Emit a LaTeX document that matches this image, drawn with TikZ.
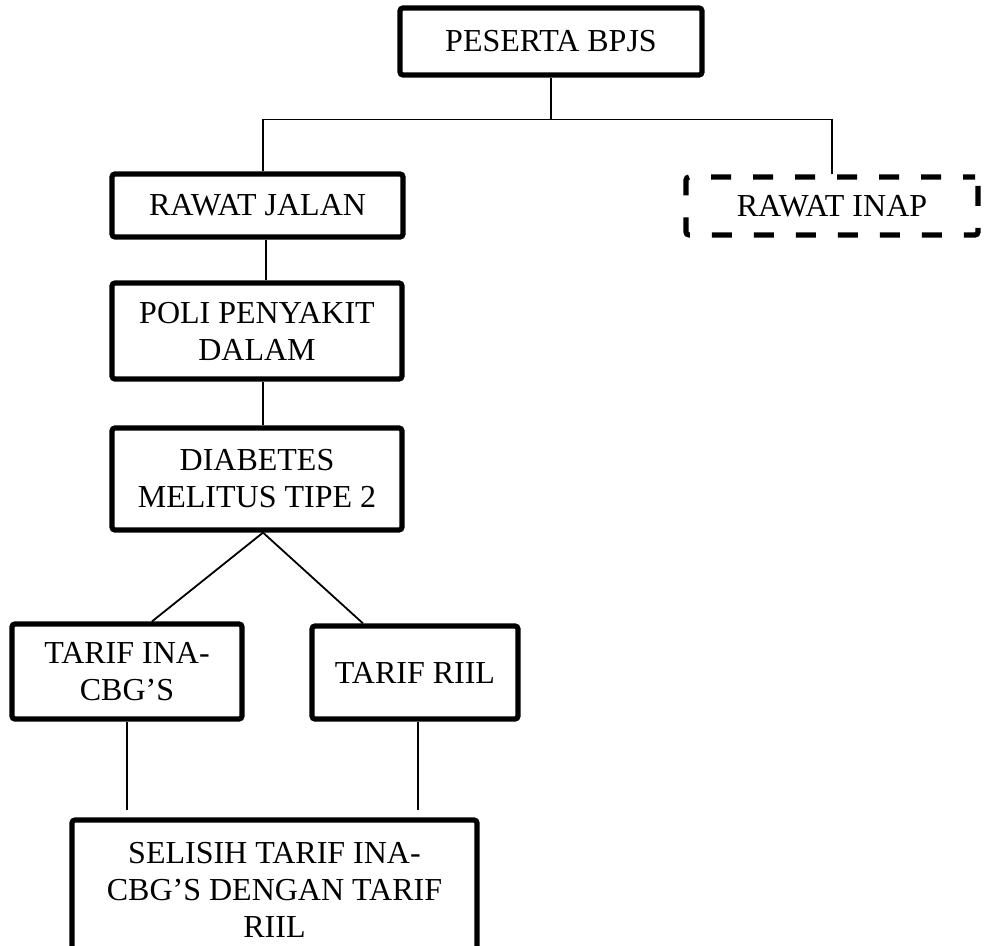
\documentclass[tikz,border=0pt]{standalone}
\usepackage{fontspec}
\setmainfont{Liberation Serif}
\usetikzlibrary{calc}
\begin{document}
\begin{tikzpicture}[x=0.5pt,y=-0.5pt,
  box/.style={draw, line width=2.6pt, rounded corners=1.5pt, align=center, inner sep=0pt,
    font=\fontsize{16}{18.5}\selectfont},
  dashbox/.style={box, dash pattern=on 10pt off 11pt, dash phase=4pt},
  link/.style={line width=0.9pt}]
\useasboundingbox (0,0) rectangle (985,946);
\clip (0,0) rectangle (985,946);
\node[box, minimum width=151pt, minimum height=33.5pt] (peserta) at (551,41.5) {PESERTA BPJS};
\node[box, minimum width=145.5pt, minimum height=31.5pt] (rjalan) at (257.5,205.5) {RAWAT JALAN};
\node[dashbox, minimum width=146pt, minimum height=29pt] (rinap) at (832,206) {RAWAT INAP};
\node[box, minimum width=145pt, minimum height=48pt] (poli) at (257,331) {POLI PENYAKIT\\DALAM};
\node[box, minimum width=145pt, minimum height=51pt] (diab) at (257,479) {DIABETES\\MELITUS TIPE 2};
\node[box, minimum width=115pt, minimum height=47.5pt] (ina) at (127,671.5) {TARIF INA-\\CBG’S};
\node[box, minimum width=103pt, minimum height=46.5pt] (riil) at (415,672.5) {TARIF RIIL};
\node[box, minimum width=202.5pt, minimum height=70pt] (selisih) at (274.5,890) {SELISIH TARIF INA-\\CBG’S DENGAN TARIF\\RIIL};
\coordinate (j) at (551,119.5);
\draw[link] (peserta.south) -- (j);
\draw[link] ($(rjalan.north)+(5.5,0)$) |- (j);
\draw[link] (rinap.north) |- (j);
\draw[link] ($(rjalan.south)+(8.5,0)$) -- ($(poli.north)+(9,0)$);
\draw[link] ($(poli.south)+(6,0)$) -- ($(diab.north)+(6,0)$);
\draw[link] ($(diab.south)+(6,0)$) -- ($(ina.north)+(25,0)$);
\draw[link] ($(diab.south)+(6,0)$) -- ($(riil.north)+(-52,0)$);
\draw[link] (ina.south) -- ($(selisih.north)+(-147.5,-7)$);
\draw[link] ($(riil.south)+(3,0)$) -- ($(selisih.north)+(143.5,-7)$);
\end{tikzpicture}
\end{document}
